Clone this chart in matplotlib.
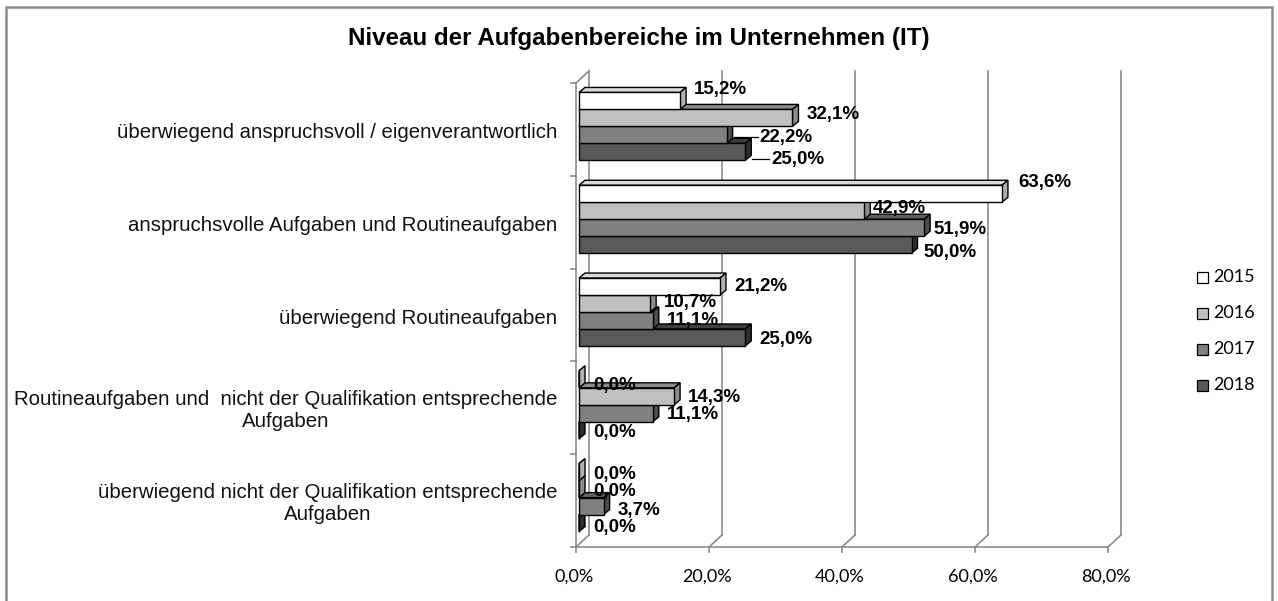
import matplotlib
matplotlib.use("Agg")
import matplotlib.pyplot as plt
import matplotlib.transforms as mtransforms
from matplotlib.patches import Polygon, Rectangle
from matplotlib.lines import Line2D

categories = [
    "überwiegend anspruchsvoll / eigenverantwortlich",
    "anspruchsvolle Aufgaben und Routineaufgaben",
    "überwiegend Routineaufgaben",
    "Routineaufgaben und  nicht der Qualifikation entsprechende\nAufgaben",
    "überwiegend nicht der Qualifikation entsprechende\nAufgaben",
]
years = ["2015", "2016", "2017", "2018"]
v2015 = [15.2, 63.6, 21.2, 0.0, 0.0]
v2016 = [32.1, 42.9, 10.7, 14.3, 0.0]
v2017 = [22.2, 51.9, 11.1, 11.1, 3.7]
v2018 = [25.0, 50.0, 25.0, 0.0, 0.0]
series = [v2015, v2016, v2017, v2018]
xticks = [0, 20, 40, 60, 80]
title = "Niveau der Aufgabenbereiche im Unternehmen (IT)"

# label nudges in px (dx right, dy down) per category / series
label_nudge = [
    [(0, -11), (0, -3), (19, 2.5), (12, 7.5)],
    [(2, -11), (-6, -2), (-5, 2), (-2, 8)],
    [(0, 0), (0, -1), (0, 0), (0, 2)],
    [(0, 6), (0, 1.5), (0, 1.5), (0, 2)],
    [(0, 2), (0, 2), (0, 4), (0, 4)],
]

front_col = ["#ffffff", "#c0c0c0", "#808080", "#595959"]
top_col = ["#d9d9d9", "#8c8c8c", "#606060", "#404040"]
side_col = ["#b0b0b0", "#8c8c8c", "#4d4d4d", "#2e2e2e"]
wall_col = "#8c8c8c"

W, H = 1278, 601
fig = plt.figure(figsize=(W / 100, H / 100), dpi=100)
ax = fig.add_axes([576 / W, 1 - 547 / H, (1108 - 576) / W, (547 - 83) / H])
ax.set_xlim(0, 80)
ax.set_ylim(len(categories) - 0.5, -0.5)
ax.axis("off")

ident = mtransforms.IdentityTransform()
DEPTH = (13, 12)   # wall depth (px)
BAR_OFF = (3, 3)   # bar front face offset from the front plane
BAR_D = (6, 5)     # bar depth
bar_h = 0.183


def px(x, y):
    return ax.transData.transform((x, y))


def line(p, q, **kw):
    ax.add_line(Line2D([p[0], q[0]], [p[1], q[1]], transform=ident,
                       color=kw.pop("color", wall_col), lw=kw.pop("lw", 1.2),
                       clip_on=False, **kw))


# walls: back gridlines, floor slants, left wall
ymin, ymax = len(categories) - 0.5, -0.5
for t in xticks:
    fb = px(t, ymin)
    bb = fb + DEPTH
    bt = px(t, ymax) + DEPTH
    line(fb, bb)
    line(bb, bt)
    line(fb, fb - (0, 5))
fl, fr = px(0, ymin), px(80, ymin)
line(fl, fr)
ftop = px(0, ymax)
line(fl, ftop)
line(ftop, ftop + DEPTH)
for k in range(len(categories) + 1):
    p = px(0, k - 0.5)
    line(p, p - (5, 0))

# bars (bottom series first so upper ones overlap)
for i in range(len(series) - 1, -1, -1):
    for j, v in enumerate(series[i]):
        yc = j + (i - 1.5) * bar_h
        bl = px(0, yc + bar_h / 2) + BAR_OFF
        tr = px(v, yc - bar_h / 2) + BAR_OFF
        dx, dy = BAR_D
        topf = [(bl[0], tr[1]), (tr[0], tr[1]), (tr[0] + dx, tr[1] + dy), (bl[0] + dx, tr[1] + dy)]
        side = [(tr[0], bl[1]), (tr[0], tr[1]), (tr[0] + dx, tr[1] + dy), (tr[0] + dx, bl[1] + dy)]
        frontf = [(bl[0], bl[1]), (tr[0], bl[1]), (tr[0], tr[1]), (bl[0], tr[1])]
        z = 3 + (3 - i) * 0.1
        for poly, fc in ((topf, top_col[i]), (side, side_col[i]), (frontf, front_col[i])):
            ax.add_patch(Polygon(poly, closed=True, facecolor=fc, edgecolor="black",
                                 lw=1.0, transform=ident, clip_on=False, zorder=z))

# data labels
for i in range(len(series)):
    for j, v in enumerate(series[i]):
        yc = j + (i - 1.5) * bar_h
        end = px(v, yc) + BAR_OFF
        ndx, ndy = label_nudge[j][i]
        lx = end[0] + BAR_D[0] + 8 + ndx
        ly = end[1] - ndy
        if ndx > 10:
            line((end[0] + BAR_D[0] + 1, ly), (lx - 2, ly), color="black", lw=0.9, zorder=6)
        ax.text(lx, ly, f"{v:.1f}%".replace(".", ","), transform=ident,
                ha="left", va="center", fontsize=13.5, fontweight="bold",
                family="Liberation Sans", zorder=7)

# category labels
for j, cat in enumerate(categories):
    p = px(0, j)
    ax.text(557, p[1] - 3, cat, transform=ident, ha="right", va="center",
            multialignment="center", fontsize=14.7, family="Liberation Sans",
            color="#111111", linespacing=1.2)

# x tick labels
for t in xticks:
    p = px(t, ymin)
    ax.text(p[0] - 2, p[1] - 30, f"{t:.1f}%".replace(".", ","), transform=ident,
            ha="center", va="center", fontsize=13, family="Lato")

# legend
for i, yr in enumerate(years):
    cy = H - (277 + 36 * i)
    fig.add_artist(Rectangle((1197, cy - 5.5), 11, 11, facecolor=front_col[i],
                             edgecolor="black", lw=0.9, transform=ident))
    fig.text(1213, cy, yr, transform=ident, ha="left", va="center",
             fontsize=13, family="Lato")

fig.text(0.5, 1 - 38 / H, title, ha="center", va="center", fontsize=17.4,
         fontweight="bold", family="Liberation Sans")

# outer border
fig.add_artist(Rectangle((5.5, -20), 1266, H - 6.5 + 20, fill=False,
                         edgecolor="#8c8c8c", lw=1.8, transform=ident))

fig.savefig("out.png", dpi=100)
